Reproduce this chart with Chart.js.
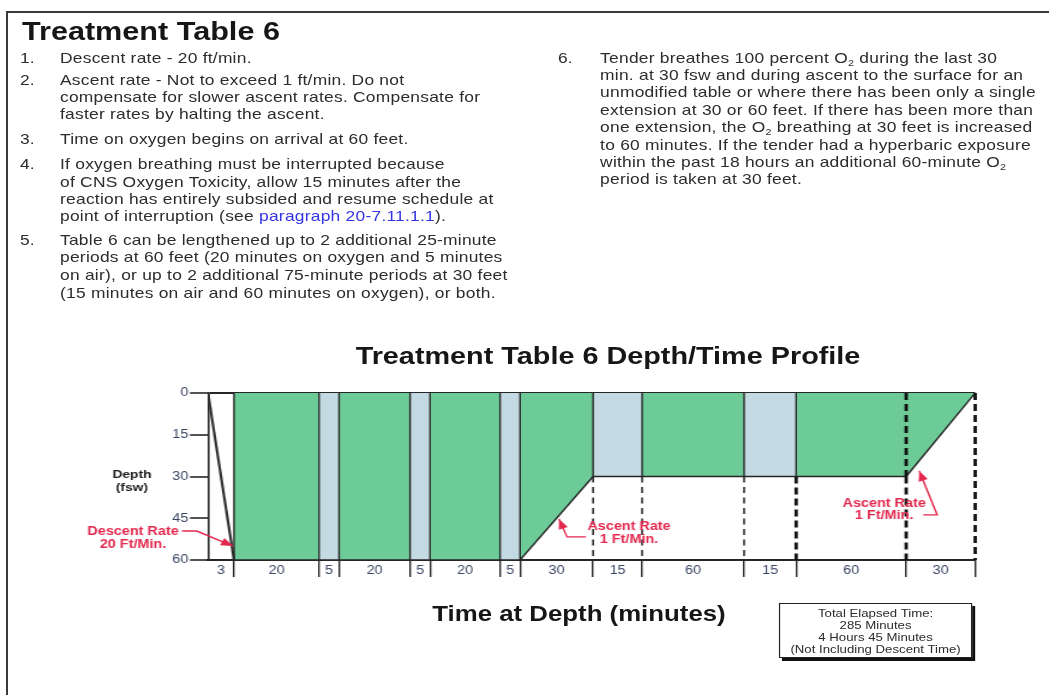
<!DOCTYPE html>
<html>
<head>
<meta charset="utf-8">
<script src="https://cdn.jsdelivr.net/npm/chart.js@4.4.1/dist/chart.umd.min.js"></script>
<style>
  html, body { margin:0; padding:0; background:#fff; }
  body { width:1049px; height:695px; overflow:hidden; position:relative;
         font-family:"Liberation Sans", Arial, Helvetica, sans-serif; }
  #frameL { position:absolute; left:6px; top:11px; width:2px; height:684px; background:#3a3a3a; }
  #frameT { position:absolute; left:6px; top:11px; width:1043px; height:2px; background:#3a3a3a; }
  /* the whole page is laid out at 874px wide and stretched to 1049px, like the reference */
  #page { position:absolute; left:0; top:0; width:874px; height:695px;
          transform:scaleX(1.2002); transform-origin:0 0; }
  .t { position:absolute; white-space:nowrap; color:#2c2c2c; }
  .b { font-size:14.5px; line-height:17px; height:17px; letter-spacing:0.2px; }
  .num { font-size:14.5px; line-height:17px; height:17px; }
  .link { color:#3434e6; }
  sub { font-size:9px; vertical-align:-3px; line-height:0; }
  #mainTitle { left:18.3px; top:18px; font-size:25.5px; line-height:26px; font-weight:bold; color:#161616; }
  #chartTitle { left:206.6px; width:600px; text-align:center; top:344px; font-size:24px; line-height:24px; font-weight:bold; color:#161616; }
  #xTitle { left:182.4px; width:600px; text-align:center; top:603px; font-size:21.5px; line-height:22px; font-weight:bold; color:#161616; }
  #totalBox { position:absolute; left:649px; top:603px; width:161px; height:55px; border:1px solid #222;
              box-shadow:2.5px 3px 0 #111; background:#fff; text-align:center;
              font-size:11px; line-height:12px; color:#2c2c2c; padding-top:3px; box-sizing:border-box; }
  #chartCanvas { position:absolute; left:0; top:0; }
</style>
</head>
<body>
<div id="frameL"></div>
<div id="frameT"></div>
<div id="page">
  <div class="t" id="mainTitle">Treatment Table 6</div>

  <div class="t num" style="left:16.7px;top:49.5px">1.</div>
  <div class="t b" style="left:50px;top:49.5px">Descent rate - 20 ft/min.</div>

  <div class="t num" style="left:16.7px;top:71.5px">2.</div>
  <div class="t b" style="left:50px;top:71.5px">Ascent rate - Not to exceed 1 ft/min. Do not</div>
  <div class="t b" style="left:50px;top:88.5px">compensate for slower ascent rates. Compensate for</div>
  <div class="t b" style="left:50px;top:105.5px">faster rates by halting the ascent.</div>

  <div class="t num" style="left:16.7px;top:130.5px">3.</div>
  <div class="t b" style="left:50px;top:130.5px">Time on oxygen begins on arrival at 60 feet.</div>

  <div class="t num" style="left:16.7px;top:155.5px">4.</div>
  <div class="t b" style="left:50px;top:155.5px">If oxygen breathing must be interrupted because</div>
  <div class="t b" style="left:50px;top:173.5px">of CNS Oxygen Toxicity, allow 15 minutes after the</div>
  <div class="t b" style="left:50px;top:190.5px">reaction has entirely subsided and resume schedule at</div>
  <div class="t b" style="left:50px;top:207.5px">point of interruption (see <span class="link">paragraph 20-7.11.1.1</span>).</div>

  <div class="t num" style="left:16.7px;top:231.5px">5.</div>
  <div class="t b" style="left:50px;top:231.5px">Table 6 can be lengthened up to 2 additional 25-minute</div>
  <div class="t b" style="left:50px;top:248.5px">periods at 60 feet (20 minutes on oxygen and 5 minutes</div>
  <div class="t b" style="left:50px;top:266.5px">on air), or up to 2 additional 75-minute periods at 30 feet</div>
  <div class="t b" style="left:50px;top:284.5px">(15 minutes on air and 60 minutes on oxygen), or both.</div>

  <div class="t num" style="left:465px;top:49.5px">6.</div>
  <div class="t b" style="left:500px;top:49.5px">Tender breathes 100 percent O<sub>2</sub> during the last 30</div>
  <div class="t b" style="left:500px;top:67px">min. at 30 fsw and during ascent to the surface for an</div>
  <div class="t b" style="left:500px;top:84px">unmodified table or where there has been only a single</div>
  <div class="t b" style="left:500px;top:101.5px">extension at 30 or 60 feet. If there has been more than</div>
  <div class="t b" style="left:500px;top:119px">one extension, the O<sub>2</sub> breathing at 30 feet is increased</div>
  <div class="t b" style="left:500px;top:136.5px">to 60 minutes. If the tender had a hyperbaric exposure</div>
  <div class="t b" style="left:500px;top:153.5px">within the past 18 hours an additional 60-minute O<sub>2</sub></div>
  <div class="t b" style="left:500px;top:171px">period is taken at 30 feet.</div>

  <div class="t" id="chartTitle">Treatment Table 6 Depth/Time Profile</div>
  <div class="t" id="xTitle">Time at Depth (minutes)</div>
  <div id="totalBox">Total Elapsed Time:<br>285 Minutes<br>4 Hours 45 Minutes<br>(Not Including Descent Time)</div>

  <canvas id="chartCanvas" width="874" height="695"></canvas>
</div>

<script>
// ---------------- data ----------------
const segDurations = [3, 20, 5, 20, 5, 20, 5, 30, 15, 60, 15, 60, 30];          // minutes
const segLabels    = ['3','20','5','20','5','20','5','30','15','60','15','60','30'];
const segGas       = ['descent','oxygen','air','oxygen','air','oxygen','air','oxygen','air','oxygen','air','oxygen','oxygen'];
const boundaryDepths = [0, 60, 60, 60, 60, 60, 60, 60, 30, 30, 30, 30, 30, 0];   // fsw at each segment boundary
const depthTicks   = [0, 15, 30, 45, 60];

// ---------------- axis styling (not data) ----------------
const segDisplayWidths = [26, 85, 20, 71, 20, 70, 20, 73, 49, 102, 52, 110, 69];   // relative drawn width of each segment
const boundaryUpperStyle = ['solid','solid','solid','solid','solid','solid','solid','solid','solid','solid','solid','bold','none'];
const boundaryLowerStyle = ['none','none','none','none','none','none','none','dash','dash','dash','bold','bold','bold'];

const times = [0];
segDurations.forEach(d => times.push(times[times.length - 1] + d));
const wSum = segDisplayWidths.reduce((a, b) => a + b, 0);
const fracs = [0];
segDisplayWidths.forEach(w => fracs.push(fracs[fracs.length - 1] + w / wSum));

function segIndexForTime(v) {
  if (v <= times[0]) return 0;
  if (v >= times[times.length - 1]) return times.length - 2;
  let i = 0;
  while (i < times.length - 2 && v > times[i + 1]) i++;
  return i;
}
function timeToDecimal(v) {
  const i = segIndexForTime(v);
  return fracs[i] + (v - times[i]) / (times[i + 1] - times[i]) * (fracs[i + 1] - fracs[i]);
}
function decimalToTime(f) {
  let i = 0;
  if (f >= 1) i = fracs.length - 2;
  else if (f > 0) { while (i < fracs.length - 2 && f > fracs[i + 1]) i++; }
  return times[i] + (f - fracs[i]) / (fracs[i + 1] - fracs[i]) * (times[i + 1] - times[i]);
}

class SegmentedScale extends Chart.LinearScale {
  getPixelForValue(value) {
    if (value === null || value === undefined || isNaN(value)) return NaN;
    return this.getPixelForDecimal(timeToDecimal(value));
  }
  getValueForPixel(pixel) {
    return decimalToTime(this.getDecimalForPixel(pixel));
  }
}
SegmentedScale.id = 'segmented';
SegmentedScale.defaults = Chart.LinearScale.defaults;
Chart.register(SegmentedScale);

// ---------------- datasets ----------------
const INK = '#262626';
const gasColors = { oxygen: '#6dcb98', air: '#c4dae2' };
const lineStyles = {
  solid: { borderColor: INK, borderWidth: 1.4, borderDash: [] },
  dash:  { borderColor: '#1e1e1e', borderWidth: 1.5, borderDash: [6, 4.5] },
  bold:  { borderColor: '#111', borderWidth: 2.8, borderDash: [7, 4] }
};
const maxDepth = depthTicks[depthTicks.length - 1];
const datasets = [];

for (let b = 1; b < times.length; b++) {
  const d = boundaryDepths[b];
  const up = boundaryUpperStyle[b - 1], lo = boundaryLowerStyle[b - 1];
  if (up !== 'none' && d > 0) {
    datasets.push(Object.assign({ data: [{ x: times[b], y: 0 }, { x: times[b], y: d }], fill: false,
      pointRadius: 0, order: 1, clip: 6 }, lineStyles[up]));
  }
  if (lo !== 'none') {
    datasets.push(Object.assign({ data: [{ x: times[b], y: d }, { x: times[b], y: maxDepth }], fill: false,
      pointRadius: 0, order: 1, clip: 6 }, lineStyles[lo]));
  }
}

segDurations.forEach((dur, i) => {
  const pts = [{ x: times[i], y: boundaryDepths[i] }, { x: times[i + 1], y: boundaryDepths[i + 1] }];
  if (segGas[i] === 'descent') {
    datasets.push({ data: pts, fill: false, borderColor: '#333', borderWidth: 2.2, pointRadius: 0, order: 1 });
  } else {
    datasets.push({ data: pts, fill: { value: 0 }, backgroundColor: gasColors[segGas[i]],
      borderColor: INK, borderWidth: 1.4, pointRadius: 0, order: 3 });
  }
});

// ---------------- annotations (time, depth) ----------------
const RED = '#e3294f';
const annotations = [
  { lines: ['Descent Rate', '20 Ft/Min.'], at: [-8.65, 49.9], arrow: [[-3.0, 49.6], [-1.3, 49.6], [2.88, 55.0]] },
  { lines: ['Ascent Rate', '1 Ft/Min.'],   at: [119.0, 48.2], arrow: [[105.1, 51.7], [97.3, 51.7], [94.0, 45.3]] },
  { lines: ['Ascent Rate', '1 Ft/Min.'],   at: [246.0, 39.6], arrow: [[265.4, 43.8], [271.5, 43.8], [263.7, 28.0]] }
];
const depthLabel = { lines: ['Depth', '(fsw)'], at: [-8.77, 29.3] };

const annotationPlugin = {
  id: 'profileNotes',
  afterDraw(chart) {
    const { ctx, scales: { x, y } } = chart;
    const px = p => [x.getPixelForValue(p[0]), y.getPixelForValue(p[1])];
    ctx.save();
    ctx.textAlign = 'center';
    ctx.textBaseline = 'middle';
    // depth label
    ctx.fillStyle = '#1c1c1c';
    ctx.font = 'bold 11.5px "Liberation Sans", Arial, sans-serif';
    const dp = px(depthLabel.at);
    depthLabel.lines.forEach((l, k) => ctx.fillText(l, dp[0], dp[1] + k * 13));
    // red notes
    annotations.forEach(a => {
      ctx.fillStyle = RED;
      ctx.strokeStyle = RED;
      ctx.font = 'bold 12px "Liberation Sans", Arial, sans-serif';
      const p = px(a.at);
      a.lines.forEach((l, k) => ctx.fillText(l, p[0], p[1] + k * 12.5));
      const pts = a.arrow.map(px);
      ctx.lineWidth = 1.4;
      ctx.beginPath();
      ctx.moveTo(pts[0][0], pts[0][1]);
      for (let k = 1; k < pts.length; k++) ctx.lineTo(pts[k][0], pts[k][1]);
      ctx.stroke();
      const tip = pts[pts.length - 1], prev = pts[pts.length - 2];
      const ang = Math.atan2(tip[1] - prev[1], tip[0] - prev[0]);
      const L = 10, W = 4;
      ctx.beginPath();
      ctx.moveTo(tip[0], tip[1]);
      ctx.lineTo(tip[0] - L * Math.cos(ang) + W * Math.sin(ang), tip[1] - L * Math.sin(ang) - W * Math.cos(ang));
      ctx.lineTo(tip[0] - L * Math.cos(ang) - W * Math.sin(ang), tip[1] - L * Math.sin(ang) + W * Math.cos(ang));
      ctx.closePath();
      ctx.fill();
    });
    ctx.restore();
  }
};

// ---------------- chart ----------------
new Chart(document.getElementById('chartCanvas'), {
  type: 'line',
  data: { datasets },
  plugins: [annotationPlugin],
  options: {
    responsive: false,
    animation: false,
    devicePixelRatio: 1,
    events: [],
    layout: { padding: { left: 123.3, right: 61.5, top: 393, bottom: 105 } },
    plugins: { legend: { display: false }, tooltip: { enabled: false }, title: { display: false } },
    scales: {
      x: {
        type: 'segmented', position: 'bottom', min: 0, max: times[times.length - 1], bounds: 'data', z: 1,
        afterBuildTicks(scale) {
          const ticks = [];
          for (let b = 1; b < times.length; b++) ticks.push({ value: times[b] });
          segDurations.forEach((d, i) => ticks.push({ value: (times[i] + times[i + 1]) / 2, isMid: true, txt: segLabels[i] }));
          ticks.sort((a, b) => a.value - b.value);
          scale.ticks = ticks;
        },
        afterFit(scale) { scale.height = 30; },
        grid: {
          drawOnChartArea: false, drawTicks: true, tickLength: 17, tickWidth: 1.4, lineWidth: 1.4,
          tickColor: c => (c.tick && c.tick.isMid) ? 'rgba(0,0,0,0)' : INK
        },
        border: { display: true, color: INK, width: 2 },
        ticks: {
          autoSkip: false, maxRotation: 0, minRotation: 0, padding: -14,
          color: '#3a4563', font: { family: '"Liberation Sans", Arial, sans-serif', size: 12 },
          callback: (v, i, ticks) => ticks[i].isMid ? ticks[i].txt : ''
        }
      },
      y: {
        type: 'linear', reverse: true, min: 0, max: maxDepth, z: 1,
        afterBuildTicks(scale) { scale.ticks = depthTicks.map(v => ({ value: v })); },
        afterFit(scale) { scale.width = 50; },
        grid: {
          drawOnChartArea: true, lineWidth: 2, tickLength: 15, tickWidth: 1.6, tickColor: INK,
          color: c => (c.tick && c.tick.value === 0) ? INK : 'rgba(0,0,0,0)'
        },
        border: { display: true, color: INK, width: 1.6 },
        ticks: {
          padding: 1.5, color: '#3a4563', font: { family: '"Liberation Sans", Arial, sans-serif', size: 12 },
          callback: v => String(v)
        }
      }
    }
  }
});
</script>
</body>
</html>
